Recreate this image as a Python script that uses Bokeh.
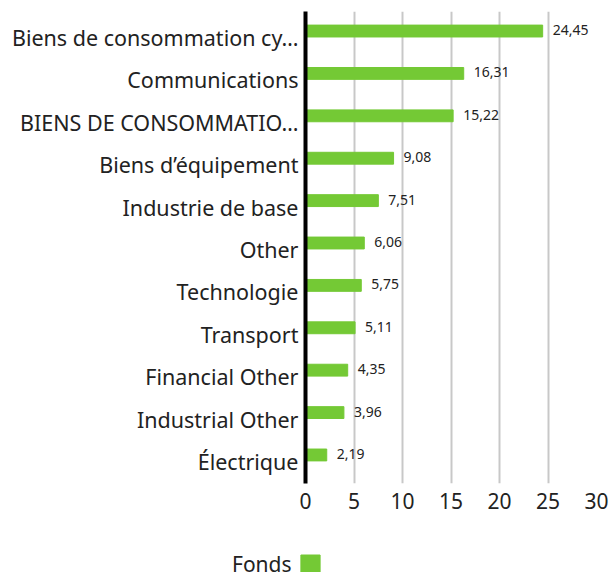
from bokeh.plotting import figure
from bokeh.models import Range1d, FixedTicker, LabelSet, ColumnDataSource, Legend, LegendItem
from bokeh.core.properties import value
from bokeh.transform import dodge
from bokeh.layouts import column
from bokeh.embed import file_html
from bokeh.resources import INLINE

categories = ["Biens de consommation cy…", "Communications", "BIENS DE CONSOMMATIO…",
              "Biens d’équipement", "Industrie de base", "Other", "Technologie",
              "Transport", "Financial Other", "Industrial Other", "Électrique"]
values = [24.45, 16.31, 15.22, 9.08, 7.51, 6.06, 5.75, 5.11, 4.35, 3.96, 2.19]
x_ticks = [0, 5, 10, 15, 20, 25, 30]
series_name = "Fonds"

GREEN = "#74C935"
FONT = "Noto Sans"
TEXT = "#222222"

positions = list(range(len(categories)))
value_labels = [f"{v:.2f}".replace(".", ",") for v in values]
src = ColumnDataSource(dict(y=positions, v=values, lab=value_labels))

yr = Range1d(10.52, -0.614)
p = figure(width=609, height=532, output_backend="svg", toolbar_location=None,
           x_range=Range1d(0, 30), y_range=yr,
           min_border_left=305, min_border_right=13, min_border_top=11, min_border_bottom=49)
p.frame_align = False
p.outline_line_color = None
p.background_fill_color = "white"
p.border_fill_color = "white"

bars = p.hbar(y=dodge("y", -0.153, range=yr), right="v", left=0, height=0.28,
              source=src, color=GREEN)

p.add_layout(LabelSet(x="v", y=dodge("y", -0.153, range=yr), text="lab", source=src,
                      x_offset=10, y_offset=1,
                      text_baseline="middle", text_font_size="14px", text_color=TEXT,
                      text_font=value(FONT)))

# axes
p.xaxis.ticker = FixedTicker(ticks=x_ticks)
p.xaxis.axis_line_color = None
p.xaxis.major_tick_line_color = None
p.xaxis.minor_tick_line_color = None
p.xaxis.major_label_text_font_size = "21px"
p.xaxis.major_label_text_font = FONT
p.xaxis.major_label_text_color = TEXT
p.xaxis.major_label_standoff = 3

p.yaxis.ticker = FixedTicker(ticks=positions)
p.yaxis.major_label_overrides = {i: c for i, c in enumerate(categories)}
p.yaxis.axis_line_color = "black"
p.yaxis.axis_line_width = 4
p.yaxis.major_tick_line_color = None
p.yaxis.minor_tick_line_color = None
p.yaxis.major_label_text_font_size = "21.5px"
p.yaxis.major_label_text_font = FONT
p.yaxis.major_label_text_color = TEXT
p.yaxis.major_label_standoff = 1

p.xgrid.ticker = FixedTicker(ticks=x_ticks[1:])
p.xgrid.grid_line_color = "#c8c8c8"
p.xgrid.grid_line_width = 2
p.ygrid.grid_line_color = None

# legend strip: text first, then the swatch (its renderer's data lies outside the view)
leg = figure(width=609, height=40, output_backend="svg", toolbar_location=None,
             x_range=Range1d(100, 101), y_range=Range1d(100, 101),
             x_axis_location=None, y_axis_location=None,
             min_border=0, min_border_left=0, min_border_right=0,
             min_border_top=0, min_border_bottom=0)
leg.frame_align = False
leg.outline_line_color = None
leg.grid.visible = False
swatch = leg.hbar(y="y", right="v", left=0, height=0.28, source=src, color=GREEN)

legend = Legend(items=[LegendItem(label=series_name, renderers=[]),
                       LegendItem(label=" ", renderers=[swatch])],
                orientation="horizontal", location=(208, -6),
                glyph_width=24, glyph_height=25, label_standoff=0, spacing=6,
                padding=0, margin=0, border_line_color=None,
                background_fill_alpha=0,
                label_text_font=FONT, label_text_font_size="21px",
                label_text_color=TEXT, label_height=20)
leg.add_layout(legend, "center")

open("out.html", "w").write(file_html(column(p, leg, spacing=0), INLINE))
